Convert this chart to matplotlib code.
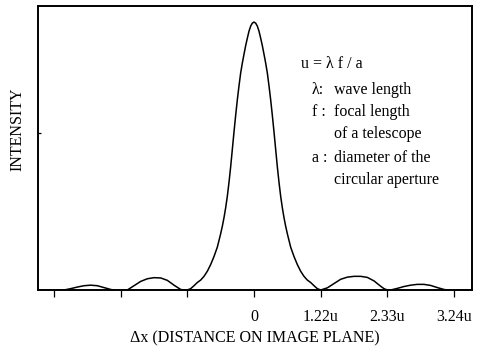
import matplotlib
matplotlib.use("Agg")
import matplotlib.pyplot as plt

# ---- data (x in tick units, intensity normalised to peak) ----
# main lobe, right half (mirrored for the left half)
main_x = [0.0, 0.025, 0.05, 0.075, 0.10, 0.125, 0.15, 0.175, 0.20, 0.225, 0.25,
          0.275, 0.30, 0.325, 0.35, 0.375, 0.40, 0.425, 0.45, 0.475, 0.50,
          0.55, 0.60, 0.65, 0.70, 0.75, 0.80, 0.85, 0.90, 0.95, 1.00]
main_i = [1.0, 0.996, 0.985, 0.966, 0.94, 0.912, 0.88, 0.847, 0.81, 0.762, 0.71,
          0.652, 0.59, 0.525, 0.46, 0.402, 0.35, 0.307, 0.27, 0.238, 0.21,
          0.16, 0.125, 0.095, 0.07, 0.051, 0.037, 0.028, 0.016, 0.005, 0.0]

left_x = [-3.24, -2.85, -2.75, -2.65, -2.55, -2.45, -2.35, -2.25, -2.15, -2.10,
          -1.90, -1.80, -1.70, -1.60, -1.50, -1.40, -1.30, -1.20, -1.10, -1.05]
left_i = [0.0, 0.0, 0.005, 0.011, 0.016, 0.018, 0.016, 0.009, 0.002, 0.0,
          0.0, 0.016, 0.032, 0.042, 0.046, 0.045, 0.036, 0.018, 0.002, 0.0]

right_x = [1.10, 1.20, 1.30, 1.40, 1.50, 1.60, 1.70, 1.80, 1.90, 1.95, 2.00,
           2.05, 2.15, 2.25, 2.35, 2.45, 2.55, 2.65, 2.75, 2.85, 2.90, 3.27]
right_i = [0.008, 0.024, 0.040, 0.048, 0.051, 0.051, 0.047, 0.034, 0.014, 0.005, 0.0,
           0.0, 0.006, 0.013, 0.018, 0.021, 0.021, 0.017, 0.009, 0.002, 0.0, 0.0]

tick_pos = [-3, -2, -1, 0, 1, 2, 3]
tick_labels = ["", "", "", "0", "1.22u", "2.33u", "3.24u"]

legend_head = "u = λ f / a"
legend_keys = ["λ:", "f :", "", "a :", ""]
legend_text = ["wave length", "focal length", "of a telescope",
               "diameter of the", "circular aperture"]

x_vals = left_x + [-v for v in main_x[:0:-1]] + main_x + right_x
intensity = left_i + main_i[:0:-1] + main_i + right_i

plt.rcParams['font.family'] = ['Liberation Serif', 'DejaVu Serif']
FS = 11.5

W, H = 481, 352
fig = plt.figure(figsize=(W / 100, H / 100), dpi=100)
ax = fig.add_axes([38 / W, 1 - 290 / H, (472 - 38) / W, (290 - 6) / H])

ax.plot(x_vals, intensity, color='black', lw=1.1, solid_joinstyle='round')
ax.set_xlim(-3.24, 3.27)
ax.set_ylim(0, 1.06)

ax.set_xticks(tick_pos)
ax.set_xticklabels(tick_labels, fontsize=FS)
ax.tick_params(axis='x', direction='out', length=5, width=0.9, pad=9)
ax.set_yticks([0.586])
ax.set_yticklabels([""])
ax.tick_params(axis='y', direction='in', length=2, width=0.9)
for s in ax.spines.values():
    s.set_linewidth(1.4)

fig.text(255 / W, 1 - 338 / H, "Δx (DISTANCE ON IMAGE PLANE)", ha='center', va='center', fontsize=FS)
fig.text(17 / W, 1 - 129 / H, "INTENSITY", ha='center', va='center', rotation=90, fontsize=FS)

fig.text(301 / W, 1 - 68.5 / H, legend_head, ha='left', va='baseline', fontsize=FS)
baselines = [94.5, 116, 137.5, 162, 183.5]
for k, t, b in zip(legend_keys, legend_text, baselines):
    if k:
        fig.text(312 / W, 1 - b / H, k, ha='left', va='baseline', fontsize=FS)
    fig.text(334 / W, 1 - b / H, t, ha='left', va='baseline', fontsize=FS)

fig.savefig("out.png", dpi=100)
